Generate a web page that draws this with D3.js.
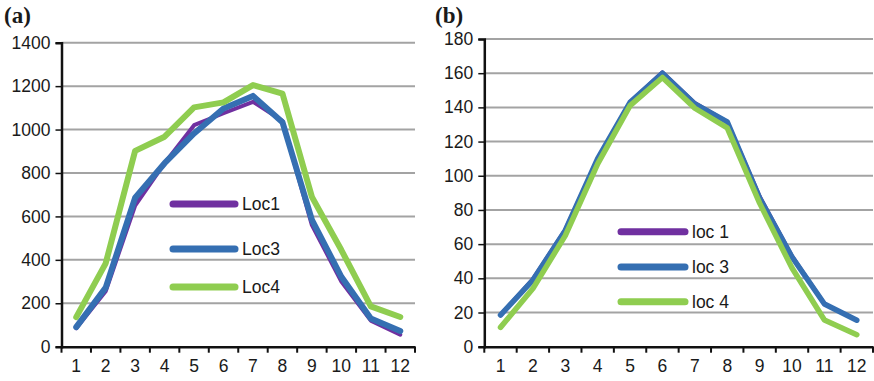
<!DOCTYPE html>
<html>
<head>
<meta charset="UTF-8">
<title>Monthly curves</title>
<style>
  body { margin: 0; background: #fff; }
  svg text { font-family: "Liberation Sans", Arial, Helvetica, sans-serif; fill: #1a1a1a; }
</style>
</head>
<body>
<script src="https://d3js.org/d3.v7.min.js"></script>
<svg id="chart"></svg>
<script>
let months = [1, 2, 3, 4, 5, 6, 7, 8, 9, 10, 11, 12];

// panel (a)
let aTicks = [0, 200, 400, 600, 800, 1000, 1200, 1400];
let aLoc1 = [85, 255, 650, 845, 1020, 1075, 1128, 1040, 560, 300, 120, 55];
let aLoc3 = [90, 272, 686, 845, 982, 1097, 1155, 1034, 584, 322, 130, 72];
let aLoc4 = [136, 384, 902, 967, 1102, 1125, 1205, 1166, 690, 445, 186, 137];
let aNames = ["Loc1", "Loc3", "Loc4"];

// panel (b)
let bTicks = [0, 20, 40, 60, 80, 100, 120, 140, 160, 180];
let bLoc1 = [18.5, 39.5, 68.5, 110, 143, 160.5, 142.5, 131.5, 88, 53, 25, 15.5];
let bLoc3 = [18.5, 39, 68, 110, 143, 160, 142, 131.5, 87, 52.5, 25, 15.5];
let bLoc4 = [11.3, 34, 65, 107, 141, 157.5, 139.5, 128, 84, 46, 15.6, 7];
let bNames = ["loc 1", "loc 3", "loc 4"];

let colors = ["#7030a0", "#356fb2", "#8fcd50"];
let fontStack = "'Liberation Sans', Arial, Helvetica, sans-serif";
let fs = 17.5;

let svg = d3.select("#chart").attr("width", 874).attr("height", 381);

function drawPanel(cfg) {
    let x = d3.scaleBand().domain(months).range([cfg.left, cfg.right]);
    let y = d3.scaleLinear().domain([0, cfg.max]).range([cfg.bottom, cfg.top]);
    let g = svg.append("g");

    // gridlines
    g.selectAll("line.grid")
        .data(cfg.ticks.filter(d => d > 0))
        .enter().append("line")
        .attr("class", "grid")
        .attr("x1", cfg.left).attr("x2", cfg.right)
        .attr("y1", d => y(d)).attr("y2", d => y(d))
        .attr("stroke", "#a3a3a3").attr("stroke-width", 2);

    // y axis
    let ya = g.append("g")
        .attr("transform", "translate(" + cfg.left + ",0)")
        .call(d3.axisLeft(y).tickValues(cfg.ticks).tickFormat(d3.format("d"))
            .tickSize(6).tickPadding(5))
        .attr("font-size", fs).attr("font-family", fontStack);
    ya.select(".domain").attr("stroke", "#111").attr("stroke-width", 2.5);
    ya.selectAll(".tick line").attr("stroke", "#111").attr("stroke-width", 1.5);
    ya.selectAll("text").attr("fill", "#1a1a1a");

    // x axis
    let xa = g.append("g")
        .attr("transform", "translate(0," + cfg.bottom + ")")
        .call(d3.axisBottom(x).tickSize(0).tickPadding(13))
        .attr("font-size", fs).attr("font-family", fontStack);
    xa.select(".domain").attr("stroke", "#111").attr("stroke-width", 2.5);
    xa.selectAll("text").attr("fill", "#1a1a1a");
    // category boundary ticks
    g.selectAll("line.xt")
        .data(months.concat([13]))
        .enter().append("line")
        .attr("class", "xt")
        .attr("x1", d => d <= 12 ? x(d) : cfg.right)
        .attr("x2", d => d <= 12 ? x(d) : cfg.right)
        .attr("y1", cfg.bottom).attr("y2", cfg.bottom + 6)
        .attr("stroke", "#111").attr("stroke-width", 2);

    // series
    let line = d3.line()
        .x((d, i) => x(months[i]) + x.bandwidth() / 2)
        .y(d => y(d));
    cfg.series.forEach((s, i) => {
        g.append("path")
            .datum(s)
            .attr("d", line)
            .attr("fill", "none")
            .attr("stroke", colors[i])
            .attr("stroke-width", cfg.widths[i])
            .attr("stroke-linejoin", "round")
            .attr("stroke-linecap", "round");
    });

    // legend
    cfg.names.forEach((n, i) => {
        let ly = cfg.legY[i];
        g.append("line")
            .attr("x1", cfg.legX).attr("x2", cfg.legX + cfg.legLen)
            .attr("y1", ly).attr("y2", ly)
            .attr("stroke", colors[i]).attr("stroke-width", 7)
            .attr("stroke-linecap", "round");
        g.append("text")
            .attr("x", cfg.legX + cfg.legLen + 7)
            .attr("y", ly)
            .attr("dy", "0.36em")
            .attr("font-size", fs)
            .attr("font-family", fontStack)
            .text(n);
    });

    // panel label
    svg.append("text")
        .attr("x", cfg.labelX).attr("y", 22.5)
        .style("font-family", "'Liberation Serif', 'Times New Roman', serif")
        .style("font-weight", "bold")
        .style("font-size", "23px")
        .attr("fill", "#111")
        .text(cfg.label);
}

drawPanel({
    left: 61.5, right: 415, top: 42.7, bottom: 346.7, max: 1400,
    ticks: aTicks, series: [aLoc1, aLoc3, aLoc4], widths: [4, 6, 6],
    names: aNames, legX: 173, legLen: 62, legY: [204, 249, 287],
    label: "(a)", labelX: 4
});

drawPanel({
    left: 484.3, right: 873, top: 39, bottom: 346.7, max: 180,
    ticks: bTicks, series: [bLoc1, bLoc3, bLoc4], widths: [4, 5.5, 5.5],
    names: bNames, legX: 621, legLen: 64, legY: [231.7, 267, 301.7],
    label: "(b)", labelX: 435
});
</script>
</body>
</html>
